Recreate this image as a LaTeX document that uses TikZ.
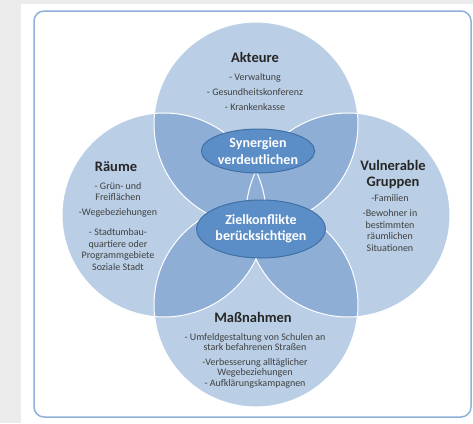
\documentclass[tikz,border=0pt]{standalone}
\usepackage{fontspec}
\setmainfont{Carlito}
\usetikzlibrary{shapes.geometric}
\definecolor{bgGray}{HTML}{EBEBEB}
\definecolor{boxBorder}{HTML}{8FB1D9}
\definecolor{circLight}{HTML}{BACFE6}
\definecolor{circDark}{HTML}{8FAED6}
\definecolor{ellFill}{HTML}{5B8DC7}
\definecolor{ellBorder}{HTML}{4171A4}
\definecolor{titleText}{HTML}{262626}
\definecolor{itemText}{HTML}{404040}
\tikzset{
  titlelabel/.style={font=\fontsize{14.5}{16}\selectfont\bfseries, text=titleText, align=center, inner sep=0pt, anchor=base},
  itemlabel/.style={font=\fontsize{10}{11.5}\selectfont, text=itemText, align=center, inner sep=0pt, anchor=base},
  centerellipse/.style={ellipse, draw=ellBorder, line width=1pt, fill=ellFill, text=white,
     font=\fontsize{14}{16.5}\selectfont\bfseries, align=center, inner sep=0pt},
  ring/.style={draw=white, line width=1pt}
}
\begin{document}
\begin{tikzpicture}[x=1pt,y=-1pt]
\useasboundingbox (0,0) rectangle (473,423);
\fill[bgGray] (0,0) rectangle (473,423);
\fill[white] (21,4) rectangle (473,423);
\draw[boxBorder, line width=1.5pt, rounded corners=10pt] (34,11) rectangle (471,417);

\coordinate (T) at (256,124);
\coordinate (B) at (256,305);
\coordinate (L) at (164,215);
\coordinate (R) at (348,215);

% light circles
\fill[circLight] (T) circle (102pt);
\fill[circLight] (B) circle (102pt);
\fill[circLight] (L) circle (102pt);
\fill[circLight] (R) circle (102pt);
% overlaps
\begin{scope}
  \clip (T) circle (102pt);
  \fill[circDark] (L) circle (102pt);
  \fill[circDark] (R) circle (102pt);
  \fill[circDark] (B) circle (102pt);
\end{scope}
\begin{scope}
  \clip (B) circle (102pt);
  \fill[circDark] (L) circle (102pt);
  \fill[circDark] (R) circle (102pt);
\end{scope}
\begin{scope}
  \clip (L) circle (102pt);
  \fill[circDark] (R) circle (102pt);
\end{scope}
% white outlines
\draw[ring] (T) circle (102pt);
\draw[ring] (R) circle (102pt);
\draw[ring] (B) circle (102pt);
\draw[ring] (L) circle (102pt);

% center ellipses
\node[centerellipse, minimum width=92pt, minimum height=44pt] (syn) at (258,151) {Synergien\\verdeutlichen};
\node[centerellipse, minimum width=112pt, minimum height=58pt] (ziel) at (261,229) {Zielkonflikte\\berücksichtigen};

% Akteure (anchor = baseline of last line)
\node[titlelabel] (akt) at (255,62) {Akteure};
\node[itemlabel] (aktitems) at (255,110) {- Verwaltung\\[3.5pt] - Gesundheitskonferenz\\[3.5pt] - Krankenkasse};

% Raeume
\node[titlelabel] (rae) at (116,171) {Räume};
\node[itemlabel] (raeitems) at (118,270) {- Grün- und\\Freiflächen\\[3.5pt] -Wegebeziehungen\\[8.5pt] - Stadtumbau-\\quartiere oder\\Programmgebiete\\Soziale Stadt};

% Vulnerable Gruppen
\node[titlelabel] (vul) at (393,186) {Vulnerable\\Gruppen};
\node[itemlabel] (vulitems) at (390,251) {-Familien\\[4pt] -Bewohner in\\bestimmten\\räumlichen\\Situationen};

% Massnahmen
\node[titlelabel] (mas) at (253,322) {Maßnahmen};
\node[itemlabel, font=\fontsize{10}{10.5}\selectfont] (masitems) at (255,386) {- Umfeldgestaltung von Schulen an\\stark befahrenen Straßen\\[4pt] -Verbesserung alltäglicher\\Wegebeziehungen\\- Aufklärungskampagnen};
\end{tikzpicture}
\end{document}
